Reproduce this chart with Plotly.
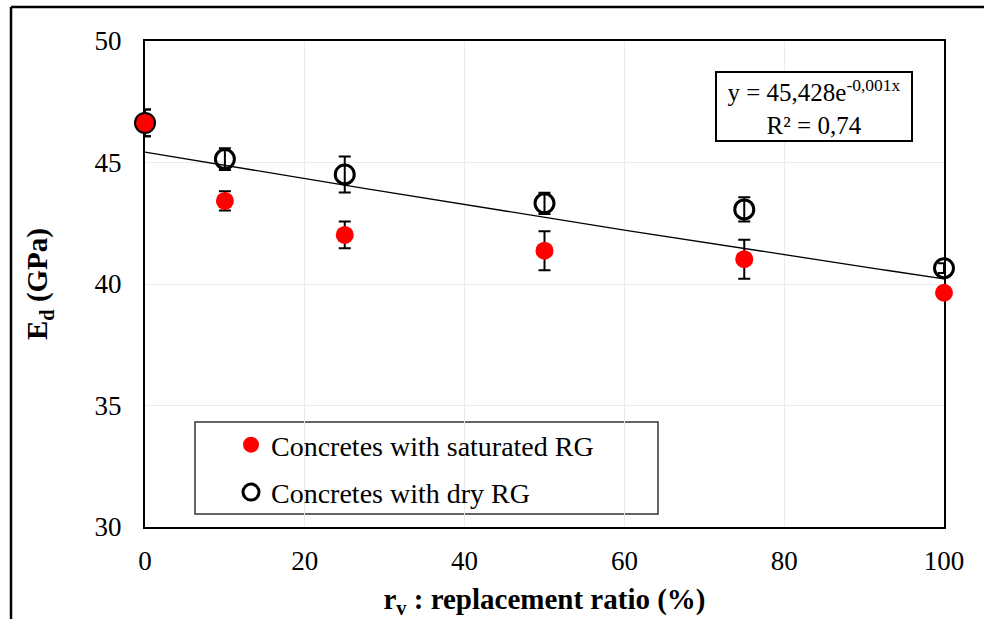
import numpy as np
import plotly.graph_objects as go

# ---- data ----
ratio = [0, 10, 25, 50, 75, 100]
sat_ed = [46.63, 43.42, 42.02, 41.37, 41.02, 39.64]
sat_err = [0.55, 0.40, 0.55, 0.80, 0.80, 0.15]
dry_ed = [46.63, 45.14, 44.51, 43.32, 43.07, 40.65]
dry_err = [0.55, 0.45, 0.74, 0.44, 0.50, 0.20]
trend_a = 45.428
trend_b = -0.00122
x_ticks = [0, 20, 40, 60, 80, 100]
y_ticks = [30, 35, 40, 45, 50]

SERIF = "Liberation Serif"

fig = go.Figure()

tx = np.linspace(0, 100, 101)
fig.add_trace(go.Scatter(
    x=tx, y=trend_a * np.exp(trend_b * tx), mode="lines",
    line=dict(color="black", width=1.3), showlegend=False, hoverinfo="skip"))

fig.add_trace(go.Scatter(
    x=ratio, y=dry_ed, mode="markers", name="Concretes with dry RG",
    legendrank=2, legendgroup="b",
    marker=dict(symbol="circle-open", size=19, color="black", line=dict(width=3, color="black")),
    error_y=dict(type="data", array=dry_err, color="black", thickness=2, width=6),
    cliponaxis=False))

fig.add_trace(go.Scatter(
    x=ratio, y=sat_ed, mode="markers", name="Concretes with saturated RG",
    legendrank=1, legendgroup="a",
    marker=dict(symbol="circle", size=18, color="#ff0000", line=dict(width=0)),
    error_y=dict(type="data", array=sat_err, color="black", thickness=2, width=6),
    cliponaxis=False))

W, H = 984, 619
L, R, T, B = 145, 40, 41, 92
pw, ph = W - L - R, H - T - B

def px(x):
    return (x - L) / pw

def py(y):
    return 1 - (y - T) / ph

fig.update_layout(
    width=W, height=H,
    margin=dict(l=L, r=R, t=T, b=B, autoexpand=False),
    paper_bgcolor="white", plot_bgcolor="white",
    font=dict(family=SERIF, color="black", size=26),
    xaxis=dict(
        range=[0, 100], tickvals=x_ticks, showgrid=True, gridcolor="#ebebeb", gridwidth=1,
        zeroline=False, showline=True, linecolor="black", linewidth=2, mirror=True,
        ticks="outside", ticklen=0, tickwidth=0, tickcolor="rgba(0,0,0,0)",
        ticklabelstandoff=9, layer="below traces", automargin=False,
        tickfont=dict(family=SERIF, size=27, color="black"),
        title=dict(text="<b>r<sub>v</sub> : replacement ratio (%)</b>",
                   font=dict(family=SERIF, size=29, color="black"), standoff=30)),
    yaxis=dict(
        range=[30, 50], tickvals=y_ticks, showgrid=True, gridcolor="#ebebeb", gridwidth=1,
        zeroline=False, showline=True, linecolor="black", linewidth=2, mirror=True,
        ticks="outside", ticklen=0, tickwidth=0, tickcolor="rgba(0,0,0,0)",
        ticklabelstandoff=16, layer="below traces", automargin=False,
        tickfont=dict(family=SERIF, size=27, color="black"),
        title=dict(text="<b>E<sub>d</sub> (GPa)</b>",
                   font=dict(family=SERIF, size=29, color="black"), standoff=38)),
    legend=dict(
        x=px(205), y=py(420), xanchor="left", yanchor="top",
        bgcolor="rgba(0,0,0,0)", borderwidth=0,
        font=dict(family=SERIF, size=28, color="black"),
        traceorder="grouped", tracegroupgap=8, indentation=26,
        itemsizing="trace"),
    showlegend=True,
)

# legend frame
fig.add_shape(type="rect", xref="paper", yref="paper", layer="below",
              x0=px(195), x1=px(658), y0=py(514), y1=py(422),
              line=dict(color="#333", width=1.5), fillcolor="white")

# equation box
fig.add_annotation(
    x=px(814), y=py(106), xref="paper", yref="paper", showarrow=False,
    xanchor="center", yanchor="middle",
    text="y = 45,428e<sup>-0,001x</sup><br>R² = 0,74",
    font=dict(family=SERIF, size=25, color="black"),
    width=190, height=63, borderpad=2,
    bordercolor="black", borderwidth=2, bgcolor="white", align="center")

# outer frame (cropped figure border)
fig.add_shape(type="line", xref="paper", yref="paper",
              x0=px(11), x1=px(984), y0=py(7), y1=py(7), line=dict(color="black", width=2.5))
fig.add_shape(type="line", xref="paper", yref="paper",
              x0=px(11), x1=px(11), y0=py(7), y1=py(619), line=dict(color="black", width=2.5))

fig.write_html("out.html", config={"displayModeBar": False},
               post_script="document.body.style.margin='0';document.body.style.overflow='hidden';")
